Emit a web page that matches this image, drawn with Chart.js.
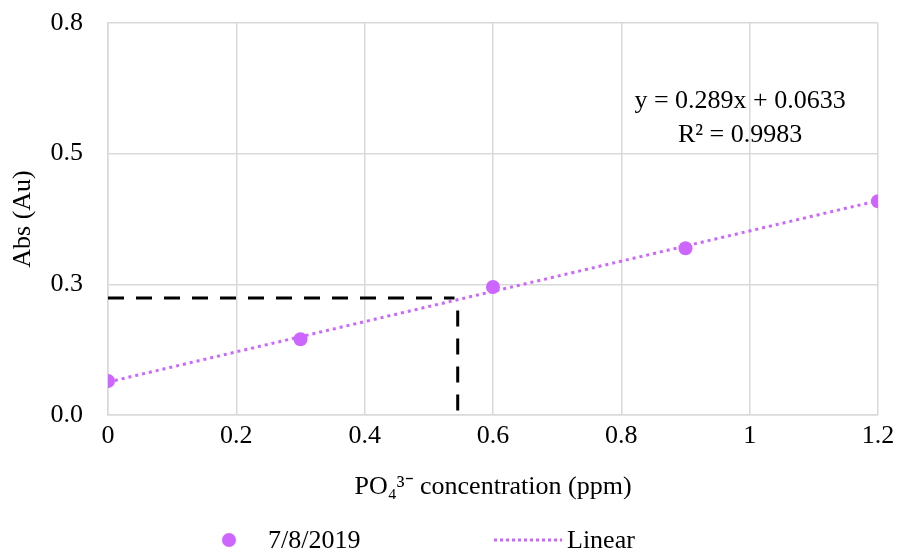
<!DOCTYPE html>
<html>
<head>
<meta charset="utf-8">
<script src="https://cdn.jsdelivr.net/npm/chart.js@4.4.0/dist/chart.umd.min.js"></script>
<style>
  html, body { margin: 0; padding: 0; background: #fff; }
</style>
</head>
<body>
<canvas id="absChart" width="900" height="552"></canvas>
<script>
// measured points (PO4 conc vs absorbance)
var concX = [0, 0.3, 0.6, 0.9, 1.2];
var absY = [0.065, 0.145, 0.245, 0.319, 0.409];

// linear trendline end points, as drawn
var trendX = [0, 1.2];
var trendY = [0.063, 0.410];

// hand-drawn dashed reading lines
var readHX = [0, 0.54];
var readHY = [0.224, 0.224];
var readVX = [0.545, 0.545];
var readVY = [0.2, 0];

var xTicks = [0, 0.2, 0.4, 0.6, 0.8, 1, 1.2];
var yTicks = [0, 0.25, 0.5, 0.75];

var seriesName = '7/8/2019';
var trendName = 'Linear';
var equation = 'y = 0.289x + 0.0633';
var rSquared = 'R\u00B2 = 0.9983';

var violet = '#CC66FF';
var gridCol = '#d9d9d9';
var serif = "'Liberation Serif', 'Times New Roman', serif";
var fontPx = 26;

function pairs(xs, ys) {
  return xs.map(function(x, i) { return { x: x, y: ys[i] }; });
}

var extras = {
  id: 'extras',
  afterDatasetsDraw: function(chart) {
    var ctx = chart.ctx;
    var xs = chart.scales.x, ys = chart.scales.y;
    ctx.save();
    ctx.fillStyle = '#000';
    ctx.font = fontPx + 'px ' + serif;
    ctx.textAlign = 'center';
    ctx.textBaseline = 'middle';
    var cx = xs.getPixelForValue(0.985);
    ctx.fillText(equation, cx, ys.getPixelForValue(0.60));
    ctx.fillText(rSquared, cx, ys.getPixelForValue(0.535));

    // legend
    var ly = 540;
    ctx.fillStyle = violet;
    ctx.beginPath();
    ctx.arc(229, ly, 7, 0, Math.PI * 2);
    ctx.fill();
    ctx.fillStyle = '#000';
    ctx.textAlign = 'left';
    ctx.fillText(seriesName, 268, ly + 1);

    ctx.strokeStyle = violet;
    ctx.lineWidth = 3;
    ctx.setLineDash([3, 3]);
    ctx.beginPath();
    ctx.moveTo(494, ly);
    ctx.lineTo(562, ly);
    ctx.stroke();
    ctx.setLineDash([]);
    ctx.fillText(trendName, 567, ly + 1);
    ctx.restore();
  }
};

var ctx = document.getElementById('absChart').getContext('2d');
var absChart = new Chart(ctx, {
  type: 'scatter',
  data: {
    datasets: [{
      label: seriesName,
      data: pairs(concX, absY),
      backgroundColor: violet,
      borderColor: violet,
      pointRadius: 7,
      pointBorderWidth: 0,
      order: 0
    }, {
      label: trendName,
      type: 'line',
      data: pairs(trendX, trendY),
      borderColor: violet,
      borderWidth: 3,
      borderDash: [3, 4],
      pointRadius: 0,
      fill: false,
      order: 2
    }, {
      label: 'readH',
      type: 'line',
      data: pairs(readHX, readHY),
      borderColor: '#000',
      borderWidth: 3,
      borderDash: [16, 12],
      pointRadius: 0,
      fill: false,
      order: 1
    }, {
      label: 'readV',
      type: 'line',
      data: pairs(readVX, readVY),
      borderColor: '#000',
      borderWidth: 3,
      borderDash: [16, 12],
      pointRadius: 0,
      fill: false,
      order: 1
    }]
  },
  options: {
    responsive: false,
    animation: false,
    layout: { padding: { top: 23, right: 22, bottom: 45, left: 0 } },
    plugins: {
      legend: { display: false },
      tooltip: { enabled: false }
    },
    scales: {
      x: {
        type: 'linear',
        min: 0,
        max: 1.2,
        afterBuildTicks: function(scale) {
          scale.ticks = xTicks.map(function(v) { return { value: v }; });
        },
        afterFit: function(scale) {
          scale.height = 92;
          scale.paddingLeft = 0;
          scale.paddingRight = 0;
        },
        grid: { color: gridCol, lineWidth: 1.5, drawTicks: false },
        border: { color: gridCol, width: 1.5 },
        ticks: {
          padding: 6,
          color: '#000',
          font: { family: serif, size: fontPx },
          callback: function(v) { return String(Number(v.toFixed(1))); }
        },
        title: {
          display: true,
          text: 'PO\u2084\u00B3\u207B concentration (ppm)',
          color: '#000',
          font: { family: serif, size: fontPx },
          padding: { top: 10, bottom: 4 }
        }
      },
      y: {
        min: 0,
        max: 0.75,
        afterBuildTicks: function(scale) {
          scale.ticks = yTicks.map(function(v) { return { value: v }; });
        },
        afterFit: function(scale) {
          scale.width = 108;
          scale.paddingTop = 0;
          scale.paddingBottom = 0;
        },
        grid: { color: gridCol, lineWidth: 1.5, drawTicks: false },
        border: { color: gridCol, width: 1.5 },
        ticks: {
          padding: 25,
          color: '#000',
          font: { family: serif, size: fontPx },
          callback: function(v) { return v.toFixed(1); }
        },
        title: {
          display: true,
          text: 'Abs (Au)',
          color: '#000',
          font: { family: serif, size: fontPx },
          padding: { top: 8, bottom: 0 }
        }
      }
    }
  },
  plugins: [extras]
});
</script>
</body>
</html>
